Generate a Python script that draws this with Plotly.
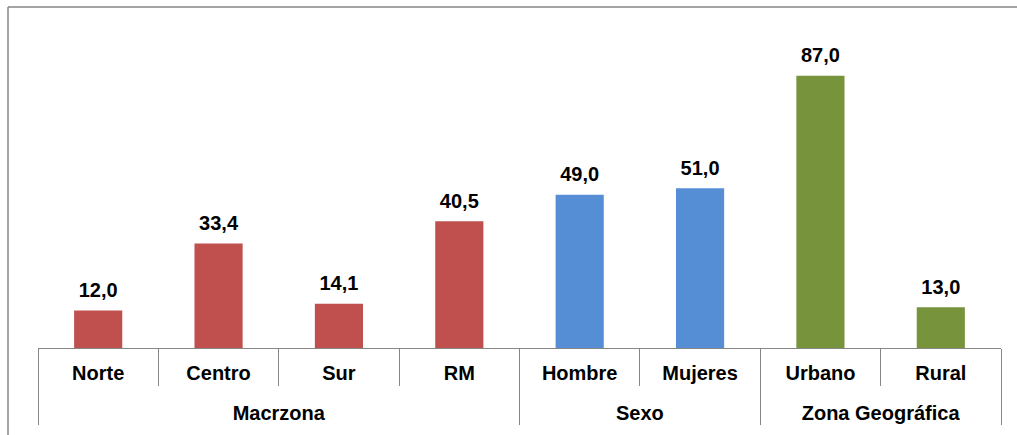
import plotly.graph_objects as go

groups = ["Macrzona"] * 4 + ["Sexo"] * 2 + ["Zona Geográfica"] * 2
categories = ["Norte", "Centro", "Sur", "RM", "Hombre", "Mujeres", "Urbano", "Rural"]
values = [12.0, 33.4, 14.1, 40.5, 49.0, 51.0, 87.0, 13.0]
colors = ["#C0504D"] * 4 + ["#558ED5"] * 2 + ["#77933C"] * 2
labels = [f"{v:.1f}".replace(".", ",") for v in values]
cat_ticks = [c + "<br><span style='font-size:6px'> </span>" for c in categories]

W, H = 1017, 435
L, R, T, B = 38, 16, 35, 87
pw, ph = W - L - R, H - T - B
FONT = "Liberation Sans, Arial"

fig = go.Figure()
fig.add_trace(go.Bar(
    x=[groups, cat_ticks],
    y=values,
    marker=dict(color=colors, line=dict(width=0)),
    width=0.4,
    hoverinfo="skip",
))
fig.add_trace(go.Scatter(
    x=[groups, cat_ticks],
    y=values,
    mode="markers+text",
    marker=dict(size=12, opacity=0),
    text=labels,
    textposition="top center",
    textfont=dict(family=FONT, size=20, color="#000000", weight="bold"),
    cliponaxis=False,
    hoverinfo="skip",
))

fig.update_layout(
    width=W, height=H,
    margin=dict(l=L, r=R, t=T, b=B, autoexpand=False),
    paper_bgcolor="white", plot_bgcolor="white",
    showlegend=False,
    font=dict(family=FONT, size=20, color="#000000"),
    xaxis=dict(
        type="multicategory", automargin=False,
        range=[-0.5, len(categories) - 0.5],
        showline=True, linecolor="#868686", linewidth=1,
        ticks="outside", tickson="boundaries", ticklen=37, tickcolor="#868686",
        showdividers=True, dividercolor="#868686", dividerwidth=1,
        tickfont=dict(family=FONT, size=20, color="#000000", weight="bold"),
        ticklabelstandoff=7,
        showgrid=False,
    ),
    yaxis=dict(range=[0, 100], visible=False, showgrid=False, zeroline=False),
    shapes=[
        dict(type="line", xref="paper", yref="paper",
             x0=(8 - L) / pw, x1=(8 - L) / pw, y0=-(H - T) / ph, y1=1 + (T - 7) / ph,
             line=dict(color="#868686", width=1.5)),
        dict(type="line", xref="paper", yref="paper",
             x0=(8 - L) / pw, x1=(W - L) / pw, y0=1 + (T - 7) / ph, y1=1 + (T - 7) / ph,
             line=dict(color="#868686", width=1.5)),
    ],
)

fig.write_html("out.html", config={"displayModeBar": False},
               post_script="document.body.style.margin='0';")
